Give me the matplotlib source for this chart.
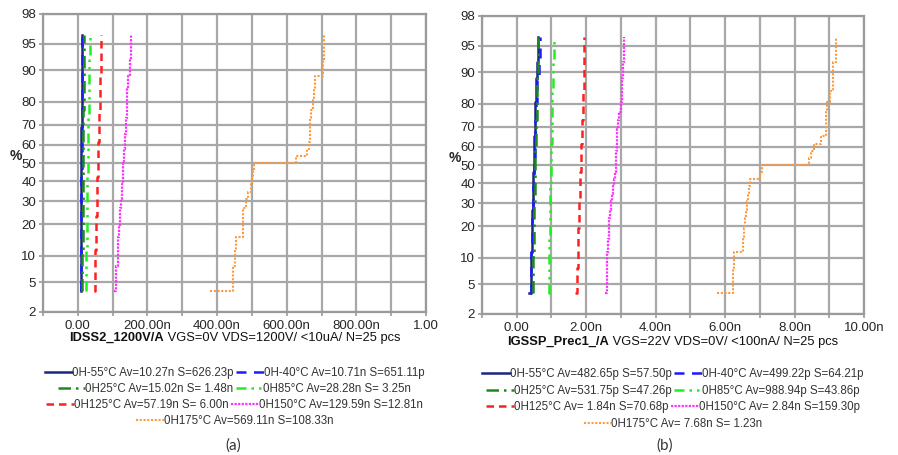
import math
import numpy as np
import matplotlib
matplotlib.use("Agg")
import matplotlib.pyplot as plt

plt.rcParams['font.family'] = ['Liberation Sans', 'DejaVu Sans']

# ---------------- data (values in nA) ----------------
series_names = ["0H-55°C", "0H-40°C", "0H25°C", "0H85°C", "0H125°C", "0H150°C", "0H175°C"]

# panel (a): IDSS2_1200V
a_m55 = [9.4, 9.5, 9.6, 9.7, 9.8, 9.8, 9.9, 9.9, 10.0, 10.0, 10.1, 10.2, 10.2, 10.3, 10.3,
         10.4, 10.5, 10.5, 10.6, 10.7, 10.8, 10.9, 11.1, 11.3, 11.6]
a_m40 = [9.7, 9.9, 10.0, 10.1, 10.2, 10.3, 10.3, 10.4, 10.4, 10.5, 10.5, 10.6, 10.7, 10.7, 10.8,
         10.9, 10.9, 11.0, 11.1, 11.2, 11.3, 11.4, 11.6, 11.8, 12.3]
a_25 = [12.6, 13.0, 13.4, 13.6, 13.8, 14.0, 14.2, 14.4, 14.5, 14.7, 14.8, 15.0, 15.1, 15.2, 15.3,
        15.5, 15.6, 15.8, 16.0, 16.2, 16.4, 16.7, 17.0, 17.4, 18.0]
a_85 = [22.5, 23.5, 24.3, 25.0, 25.5, 26.0, 26.4, 26.8, 27.2, 27.5, 27.8, 28.1, 28.3, 28.6, 28.9,
        29.2, 29.6, 30.0, 30.4, 30.8, 31.3, 31.9, 32.6, 33.5, 35.0]
a_125 = [46.5, 48.5, 50.0, 51.5, 52.5, 53.3, 54.0, 54.7, 55.3, 55.9, 56.5, 57.0, 57.5, 58.0, 58.6,
         59.2, 59.8, 60.4, 61.1, 61.9, 62.8, 63.8, 65.0, 66.5, 68.0]
a_150 = [104, 110, 114, 116, 118, 120, 122, 124, 126, 128, 129, 130, 131, 133, 134,
         135, 136, 137, 139, 140, 141, 142, 144, 150, 154]
a_175 = [379, 446, 451, 454, 473, 474, 475, 482, 489, 496, 499, 502, 505, 628, 659,
         663, 666, 667, 668, 669, 676, 678, 681, 703, 708]

# panel (b): IGSSP_Prec1
b_m55 = [0.36, 0.41, 0.42, 0.43, 0.44, 0.45, 0.45, 0.46, 0.47, 0.47, 0.48, 0.48, 0.49, 0.49, 0.50,
         0.50, 0.51, 0.52, 0.52, 0.53, 0.54, 0.55, 0.56, 0.57, 0.62]
b_m40 = [0.37, 0.40, 0.42, 0.43, 0.44, 0.45, 0.46, 0.47, 0.48, 0.48, 0.49, 0.50, 0.50, 0.51, 0.52,
         0.52, 0.53, 0.54, 0.54, 0.55, 0.56, 0.57, 0.58, 0.64, 0.66]
b_25 = [0.46, 0.47, 0.48, 0.49, 0.50, 0.50, 0.51, 0.51, 0.52, 0.52, 0.53, 0.53, 0.53, 0.54, 0.54,
        0.55, 0.55, 0.56, 0.56, 0.57, 0.57, 0.58, 0.59, 0.60, 0.61]
b_85 = [0.91, 0.92, 0.93, 0.94, 0.95, 0.95, 0.96, 0.96, 0.97, 0.97, 0.98, 0.98, 0.99, 0.99, 1.00,
        1.00, 1.01, 1.01, 1.02, 1.02, 1.03, 1.03, 1.04, 1.05, 1.06]
b_125 = [1.68, 1.74, 1.75, 1.76, 1.77, 1.78, 1.79, 1.80, 1.81, 1.82, 1.82, 1.83, 1.84, 1.85, 1.85,
         1.86, 1.87, 1.88, 1.89, 1.90, 1.91, 1.92, 1.93, 1.94, 1.95]
b_150 = [2.55, 2.59, 2.61, 2.63, 2.65, 2.67, 2.69, 2.71, 2.73, 2.76, 2.79, 2.82, 2.85, 2.86, 2.87,
         2.88, 2.89, 2.90, 2.92, 2.94, 3.00, 3.02, 3.04, 3.06, 3.09]
b_175 = [5.76, 6.24, 6.25, 6.51, 6.54, 6.57, 6.59, 6.62, 6.66, 6.70, 6.71, 7.01, 7.07, 8.43, 8.46,
         8.55, 8.77, 8.91, 8.91, 8.92, 8.93, 9.01, 9.10, 9.12, 9.20]

a_labels = ["0H-55°C Av=10.27n S=626.23p", "0H-40°C Av=10.71n S=651.11p",
            "0H25°C Av=15.02n S= 1.48n", "0H85°C Av=28.28n S= 3.25n",
            "0H125°C Av=57.19n S= 6.00n", "0H150°C Av=129.59n S=12.81n",
            "0H175°C Av=569.11n S=108.33n"]
b_labels = ["0H-55°C Av=482.65p S=57.50p", "0H-40°C Av=499.22p S=64.21p",
            "0H25°C Av=531.75p S=47.26p", "0H85°C Av=988.94p S=43.86p",
            "0H125°C Av= 1.84n S=70.68p", "0H150°C Av= 2.84n S=159.30p",
            "0H175°C Av= 7.68n S= 1.23n"]

y_ticks = [2, 5, 10, 20, 30, 40, 50, 60, 70, 80, 90, 95, 98]
a_xticks = [-100, 0, 100, 200, 300, 400, 500, 600, 700, 800, 900, 1000]
a_xticklabels = ["", "0.00", "", "200.00n", "", "400.00n", "", "600.00n", "", "800.00n", "", "1.00"]
b_xticks = [-1, 0, 1, 2, 3, 4, 5, 6, 7, 8, 9, 10]
b_xticklabels = ["", "0.00", "", "2.00n", "", "4.00n", "", "6.00n", "", "8.00n", "", "10.00n"]

a_title_bold = "IDSS2_1200V/A"
a_title_rest = " VGS=0V VDS=1200V/ <10uA/ N=25 pcs"
b_title_bold = "IGSSP_Prec1_/A"
b_title_rest = " VGS=22V VDS=0V/ <100nA/ N=25 pcs"

# ---------------- styles ----------------
styles = [
    dict(color="#1c2580", ls="-", lw=1.8),
    dict(color="#1a1aff", ls=(0, (4, 3)), lw=1.8),
    dict(color="#1e8a1e", ls=(0, (5, 2, 1, 2)), lw=1.8),
    dict(color="#22ee22", ls=(0, (4, 2, 1, 2, 1, 2)), lw=1.8),
    dict(color="#ff2020", ls=(0, (3, 2)), lw=1.8),
    dict(color="#ff30ff", ls=(0, (1, 0.6)), lw=1.6),
    dict(color="#ff9a3c", ls=(0, (1, 0.8)), lw=1.5),
]

# ---------------- normal probability scale ----------------
_a = [-3.969683028665376e+01, 2.209460984245205e+02, -2.759285104469687e+02,
      1.383577518672690e+02, -3.066479806614716e+01, 2.506628277459239e+00]
_b = [-5.447609879822406e+01, 1.615858368580409e+02, -1.556989798598866e+02,
      6.680131188771972e+01, -1.328068155288572e+01]
_c = [-7.784894002430293e-03, -3.223964580411365e-01, -2.400758277161838e+00,
      -2.549671010331093e+00, 4.374664141464968e+00, 2.938163982698783e+00]
_d = [7.784695709041462e-03, 3.224671290700398e-01, 2.445134137142996e+00,
      3.754408661907416e+00]


def ppf_pct(pct):
    p = np.clip(np.asarray(pct, dtype=float) / 100.0, 1e-9, 1 - 1e-9)
    plow = 0.02425
    with np.errstate(all="ignore"):
        q = p - 0.5
        r = q * q
        xc = (((((_a[0] * r + _a[1]) * r + _a[2]) * r + _a[3]) * r + _a[4]) * r + _a[5]) * q / \
             (((((_b[0] * r + _b[1]) * r + _b[2]) * r + _b[3]) * r + _b[4]) * r + 1)
        ql = np.sqrt(-2 * np.log(p))
        xl = (((((_c[0] * ql + _c[1]) * ql + _c[2]) * ql + _c[3]) * ql + _c[4]) * ql + _c[5]) / \
             ((((_d[0] * ql + _d[1]) * ql + _d[2]) * ql + _d[3]) * ql + 1)
        qu = np.sqrt(-2 * np.log(1 - p))
        xu = -(((((_c[0] * qu + _c[1]) * qu + _c[2]) * qu + _c[3]) * qu + _c[4]) * qu + _c[5]) / \
             ((((_d[0] * qu + _d[1]) * qu + _d[2]) * qu + _d[3]) * qu + 1)
    return np.where(p < plow, xl, np.where(p > 1 - plow, xu, xc))


_erf = np.vectorize(math.erf)


def cdf_pct(z):
    z = np.asarray(z, dtype=float)
    return 50.0 * (1 + _erf(z / math.sqrt(2)))


# ---------------- figure ----------------
W, H = 898, 455
fig = plt.figure(figsize=(W / 100, H / 100), dpi=100)

grid_col = "#a8a8a8"
txt_col = "#262626"


def make_panel(rect, series, labels, xlim, xticks, xticklabels, bold, rest, label_y,
               legend_rows_y, caption, caption_xy):
    ax = fig.add_axes(rect)
    ax.set_yscale("function", functions=(ppf_pct, cdf_pct))
    handles = []
    for vals, st, lab in zip(series, styles, labels):
        v = np.sort(np.asarray(vals, dtype=float))
        n = len(v)
        pos = np.arange(1, n + 1) / (n + 1) * 100.0
        h, = ax.plot(v, pos, drawstyle="steps-post", color=st["color"], linestyle=st["ls"],
                     linewidth=st["lw"], label=lab, zorder=3)
        handles.append(h)
    ax.set_xlim(*xlim)
    ax.set_ylim(2, 98)
    ax.set_yticks(y_ticks)
    ax.set_yticklabels([str(t) for t in y_ticks])
    ax.yaxis.set_minor_locator(matplotlib.ticker.NullLocator())
    ax.set_xticks(xticks)
    ax.set_xticklabels(xticklabels)
    ax.grid(True, color=grid_col, linewidth=1.6, zorder=0)
    ax.set_axisbelow(True)
    for s in ax.spines.values():
        s.set_color("#9a9a9a")
        s.set_linewidth(1.6)
    ax.tick_params(axis="both", which="major", length=3, width=1.4, color=grid_col,
                   labelsize=9.5, labelcolor=txt_col, pad=2)
    ax.tick_params(axis="x", pad=3)
    ax.set_ylabel("%", rotation=0, fontsize=10, fontweight="bold", color=txt_col)
    ax.yaxis.set_label_coords(-0.072, 0.5)

    # centred two-part x label
    axc = rect[0] + rect[2] / 2
    t1 = fig.text(0, label_y, bold, fontweight="bold", fontsize=9.3, color="#111111",
                  ha="left", va="center")
    t2 = fig.text(0, label_y, rest, fontsize=9.3, color="#111111", ha="left", va="center")
    r = fig.canvas.get_renderer()
    w1 = t1.get_window_extent(r).width
    w2 = t2.get_window_extent(r).width
    x0 = axc * W - (w1 + w2) / 2
    t1.set_x(x0 / W)
    t2.set_x((x0 + w1) / W)

    # legend rows (centred flow layout)
    rows = [handles[0:2], handles[2:4], handles[4:6], handles[6:7]]
    for hs, ry in zip(rows, legend_rows_y):
        leg = fig.legend(handles=hs, loc="center", bbox_to_anchor=(axc, 1 - ry / H),
                         bbox_transform=fig.transFigure, ncol=len(hs), frameon=False,
                         fontsize=8.3, handlelength=2.4, handletextpad=0.0,
                         columnspacing=0.2, borderpad=0, borderaxespad=0)
        for t in leg.get_texts():
            t.set_color("#333333")
    fig.text(caption_xy[0] / W, 1 - caption_xy[1] / H, caption, fontsize=11,
             family=["Lato", "DejaVu Sans"], color="#333333", ha="center", va="center")
    return ax


rect_a = [43 / W, 1 - 312 / H, (426 - 43) / W, (312 - 14) / H]
rect_b = [482 / W, 1 - 314 / H, (864 - 482) / W, (314 - 16) / H]

make_panel(rect_a, [a_m55, a_m40, a_25, a_85, a_125, a_150, a_175], a_labels,
           (-100, 1000), a_xticks, a_xticklabels, a_title_bold, a_title_rest,
           1 - 338 / H, [373, 389, 405, 421], "(a)", (233, 446))
make_panel(rect_b, [b_m55, b_m40, b_25, b_85, b_125, b_150, b_175], b_labels,
           (-1, 10), b_xticks, b_xticklabels, b_title_bold, b_title_rest,
           1 - 342 / H, [374, 391, 407, 424], "(b)", (665, 446))

fig.savefig("out.png", dpi=100)
